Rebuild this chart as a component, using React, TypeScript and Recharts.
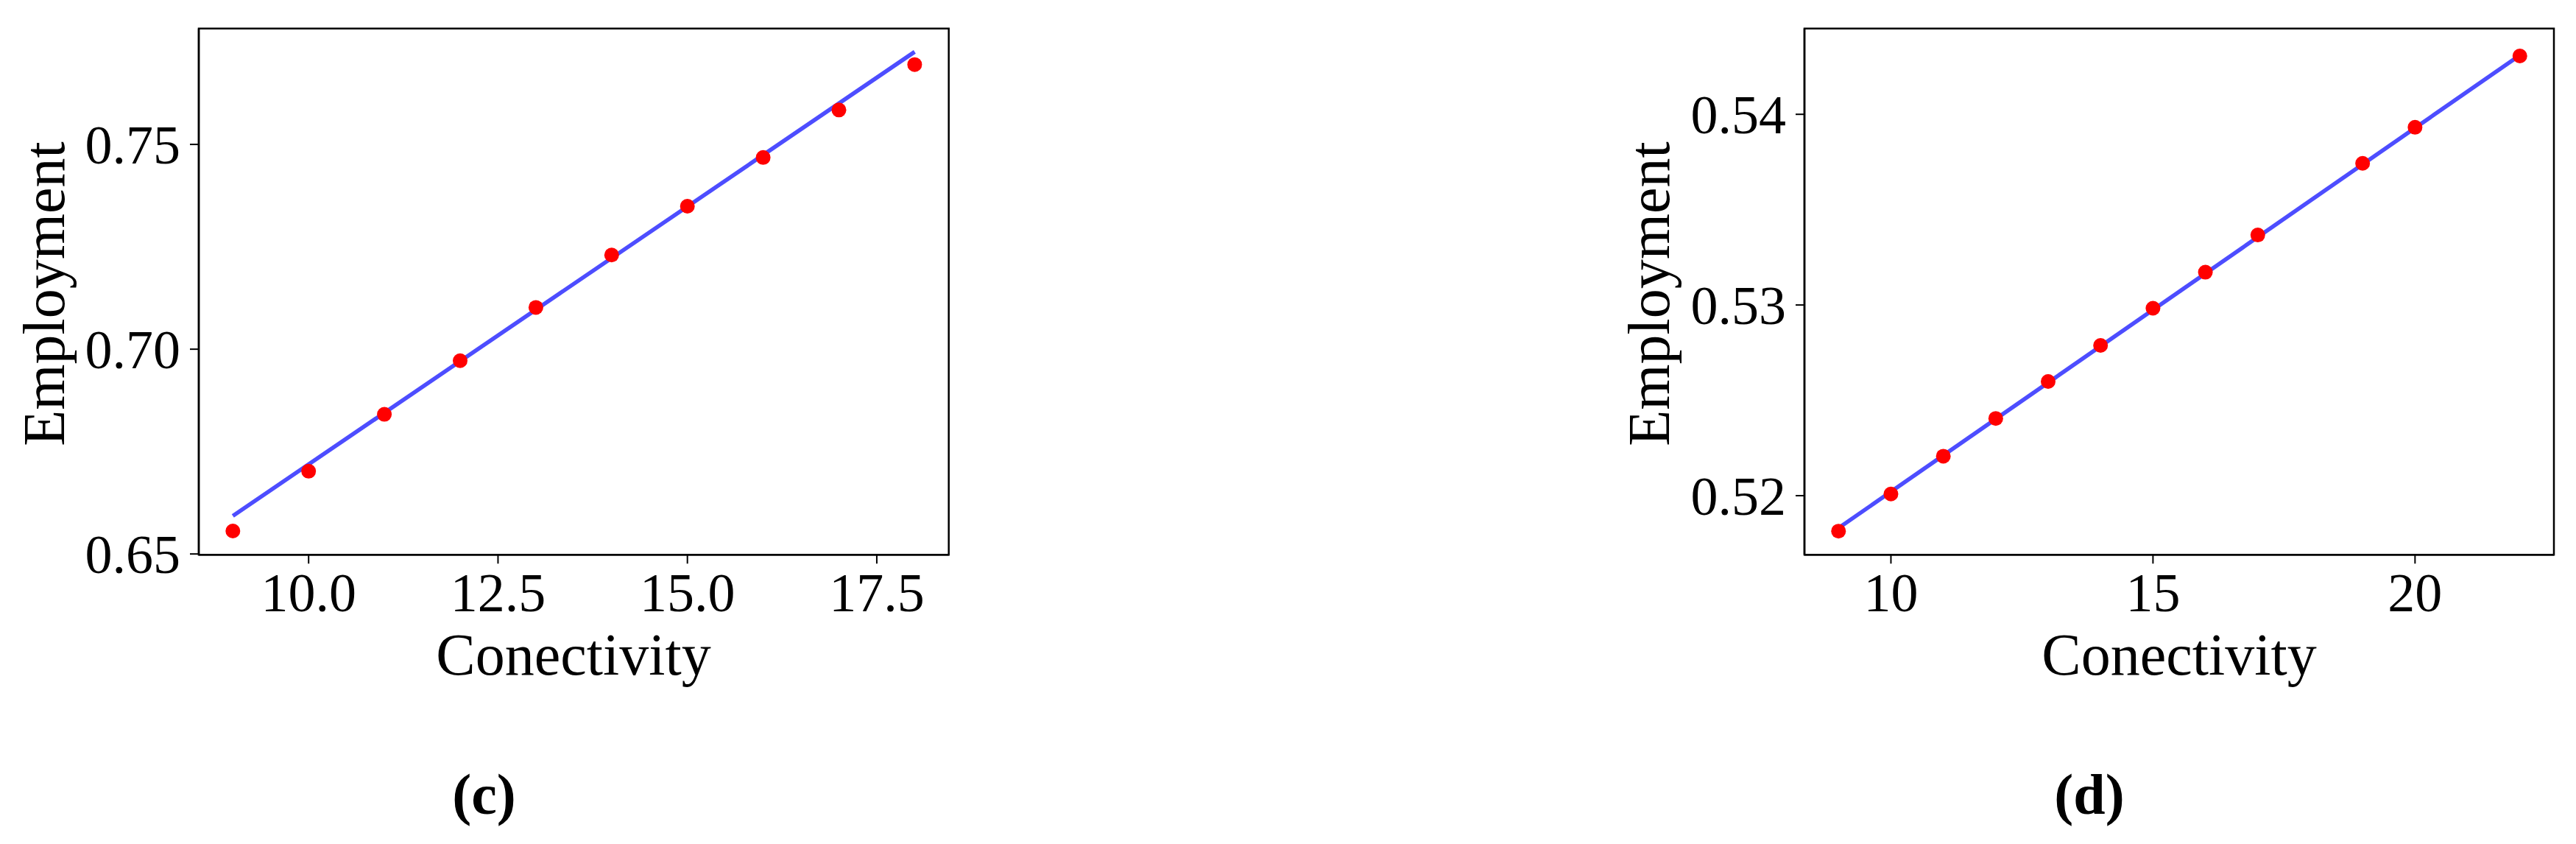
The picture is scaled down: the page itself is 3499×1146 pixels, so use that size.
import React from 'react';
import { ScatterChart, Scatter, XAxis, YAxis, ReferenceArea } from 'recharts';

// Panel (c)
const connC = [9, 10, 11, 12, 13, 14, 15, 16, 17, 18];
const empC = [0.6556, 0.6702, 0.6841, 0.6972, 0.7102, 0.723, 0.7349, 0.7468, 0.7584, 0.7695];
const fitXC = [9, 18];
const fitYC = [0.6593, 0.7726];
const xTicksC = [10, 12.5, 15, 17.5];
const yTicksC = [0.65, 0.7, 0.75];

// Panel (d)
const connD = [9, 10, 11, 12, 13, 14, 15, 16, 17, 19, 20, 22];
const empD = [0.51814, 0.52009, 0.52207, 0.52405, 0.52599, 0.52788, 0.52983, 0.53172, 0.53367, 0.53743, 0.53932, 0.54306];
const fitXD = [9, 22];
const fitYD = [0.5183, 0.5431];
const xTicksD = [10, 15, 20];
const yTicksD = [0.52, 0.53, 0.54];

const FONT = '"Liberation Serif", "Times New Roman", serif';
const RED = '#ff0000';
const BLUE = '#4d4dff';

type PanelProps = {
  xs: number[];
  ys: number[];
  fx: number[];
  fy: number[];
  xDomain: [number, number];
  yDomain: [number, number];
  xTicks: number[];
  yTicks: number[];
  xDigits: number;
  left: number;
  width: number;
  yAxisWidth: number;
  marginRight: number;
};

const Dot = (props: any) => <circle cx={props.cx} cy={props.cy} r={10} fill={RED} />;
const NoShape = () => <g />;

function Panel(p: PanelProps) {
  const pts = p.xs.map((x, i) => ({ x, y: p.ys[i] }));
  const fit = p.fx.map((x, i) => ({ x, y: p.fy[i] }));
  const tickStyle = { fill: '#000', fontSize: 74, fontFamily: FONT };
  return (
    <div style={{ position: 'absolute', left: p.left, top: 0 }}>
      <ScatterChart
        width={p.width}
        height={1146}
        margin={{ top: 38.7, right: p.marginRight, bottom: 292.7, left: 0 }}
      >
        <XAxis
          type="number"
          dataKey="x"
          domain={p.xDomain}
          allowDataOverflow
          ticks={p.xTicks}
          interval={0}
          tickFormatter={(v: number) => v.toFixed(p.xDigits)}
          height={100}
          tickSize={12}
          tickMargin={12}
          axisLine={{ stroke: '#000', strokeWidth: 2.5 }}
          tickLine={{ stroke: '#000', strokeWidth: 2 }}
          tick={tickStyle}
        />
        <YAxis
          type="number"
          dataKey="y"
          domain={p.yDomain}
          allowDataOverflow
          ticks={p.yTicks}
          interval={0}
          tickFormatter={(v: number) => v.toFixed(2)}
          width={p.yAxisWidth}
          tickSize={12}
          tickMargin={13}
          axisLine={{ stroke: '#000', strokeWidth: 2.5 }}
          tickLine={{ stroke: '#000', strokeWidth: 2 }}
          tick={tickStyle}
        />
        <ReferenceArea
          x1={p.xDomain[0]}
          x2={p.xDomain[1]}
          y1={p.yDomain[0]}
          y2={p.yDomain[1]}
          fill="none"
          fillOpacity={0}
          stroke="#000"
          strokeWidth={2.5}
          ifOverflow="visible"
        />
        <Scatter
          data={fit}
          line={{ stroke: BLUE, strokeWidth: 5.5 }}
          lineType="joint"
          shape={NoShape}
          isAnimationActive={false}
        />
        <Scatter data={pts} shape={Dot} fill={RED} isAnimationActive={false} />
      </ScatterChart>
    </div>
  );
}

export default function App() {
  const labelStyle = { fontFamily: FONT, fontSize: 80, fill: '#000' } as any;
  const capStyle = { fontFamily: FONT, fontSize: 78, fontWeight: 700, fill: '#000' } as any;
  return (
    <div style={{ position: 'absolute', left: 0, top: 0, width: 3499, height: 1146, background: '#fff', overflow: 'hidden' }}>
      <Panel
        xs={connC}
        ys={empC}
        fx={fitXC}
        fy={fitYC}
        xDomain={[8.55, 18.45]}
        yDomain={[0.6498, 0.7783]}
        xTicks={xTicksC}
        yTicks={yTicksC}
        xDigits={1}
        left={0}
        width={1300}
        yAxisWidth={270}
        marginRight={11.3}
      />
      <Panel
        xs={connD}
        ys={empD}
        fx={fitXD}
        fy={fitYD}
        xDomain={[8.35, 22.65]}
        yDomain={[0.5169, 0.5445]}
        xTicks={xTicksD}
        yTicks={yTicksD}
        xDigits={0}
        left={2100}
        width={1380}
        yAxisWidth={351}
        marginRight={11}
      />
      <svg
        width={3499}
        height={1146}
        style={{ position: 'absolute', left: 0, top: 0, pointerEvents: 'none' }}
      >
        <text x={87} y={399} textAnchor="middle" transform="rotate(-90 87 399)" style={labelStyle}>Employment</text>
        <text x={779} y={916} textAnchor="middle" style={labelStyle}>Conectivity</text>
        <text x={657.5} y={1105} textAnchor="middle" style={capStyle}>(c)</text>
        <text x={2267} y={399} textAnchor="middle" transform="rotate(-90 2267 399)" style={labelStyle}>Employment</text>
        <text x={2960} y={916} textAnchor="middle" style={labelStyle}>Conectivity</text>
        <text x={2838} y={1105} textAnchor="middle" style={capStyle}>(d)</text>
      </svg>
    </div>
  );
}
